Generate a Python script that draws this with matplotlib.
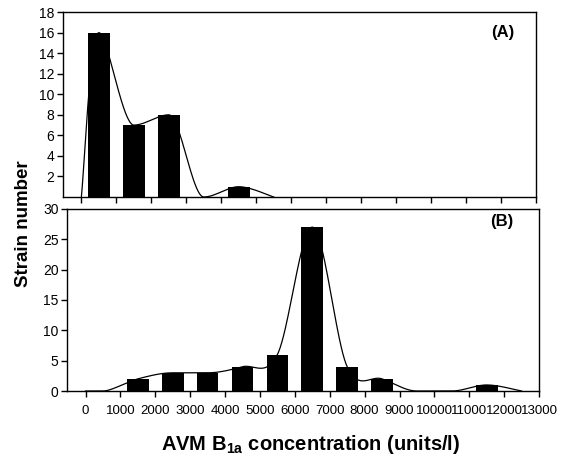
import numpy as np
import matplotlib
matplotlib.use("Agg")
import matplotlib.pyplot as plt
from matplotlib import font_manager

# Strain counts per 1000 units/l concentration bin
bin_centers = [500, 1500, 2500, 3500, 4500, 5500, 6500, 7500, 8500, 9500, 10500, 11500, 12500]
counts_a = [16, 7, 8, 0, 1, 0, 0, 0, 0, 0, 0, 0, 0]
counts_b = [0, 2, 3, 3, 4, 6, 27, 4, 2, 0, 0, 1, 0]
xtick_values = list(range(0, 13001, 1000))
xtick_labels = [str(v) for v in xtick_values]
yticks_a = [2, 4, 6, 8, 10, 12, 14, 16, 18]
yticks_b = [0, 5, 10, 15, 20, 25, 30]
curve_origin = (0, 0)

plt.rcParams['font.family'] = ['Liberation Sans', 'DejaVu Sans']
plt.rcParams['mathtext.fontset'] = 'custom'
plt.rcParams['mathtext.rm'] = 'Liberation Sans:bold'
plt.rcParams['mathtext.bf'] = 'Liberation Sans:bold'

try:
    font_manager.findfont('Liberation Sans Narrow', fallback_to_default=False)
    narrow = 'Liberation Sans Narrow'
except Exception:
    narrow = 'Liberation Sans'

fig = plt.figure(figsize=(5.66, 4.61), dpi=100)
ax_a = fig.add_axes([0.111, 0.5727, 0.836, 0.401])
ax_b = fig.add_axes([0.1184, 0.1518, 0.834, 0.395])


def smooth_curve(ax, xs, ys, n=40):
    """Bezier-smoothed line through the points (screen space); flat tangents at turning points."""
    pts = ax.transData.transform(np.column_stack([xs, ys]))
    m = len(pts)
    tang = np.zeros_like(pts)
    for i in range(m):
        a = pts[i - 1] if i > 0 else pts[i]
        b = pts[i + 1] if i < m - 1 else pts[i]
        tang[i] = (b - a) / 6.0
        if 0 < i < m - 1 and (ys[i] - ys[i - 1]) * (ys[i + 1] - ys[i]) <= 0:
            tang[i, 1] = 0.0
    out = []
    t = np.linspace(0, 1, n)[:, None]
    for i in range(m - 1):
        p1, p2 = pts[i], pts[i + 1]
        c1 = p1 + tang[i]
        c2 = p2 - tang[i + 1]
        seg = ((1 - t) ** 3) * p1 + 3 * ((1 - t) ** 2) * t * c1 + 3 * (1 - t) * t ** 2 * c2 + t ** 3 * p2
        out.append(seg if i == 0 else seg[1:])
    out = np.vstack(out)
    return ax.transData.inverted().transform(out)


def style(ax, ylim, yticks, show_xlabels):
    ax.set_xlim(-530, 13000)
    ax.set_ylim(*ylim)
    ax.set_yticks(yticks)
    ax.set_xticks(xtick_values)
    if show_xlabels:
        ax.set_xticklabels(xtick_labels, fontfamily=narrow, fontsize=9.5)
    else:
        ax.set_xticklabels([])
    ax.tick_params(axis='both', direction='out', length=4, width=1, color='black')
    ax.tick_params(axis='y', labelsize=10, pad=2)
    ax.tick_params(axis='x', pad=6)
    for s in ax.spines.values():
        s.set_linewidth(1.0)
        s.set_color('black')


panels = [
    (ax_a, counts_a, (0, 18), yticks_a, '(A)', (0.93, 0.892), False),
    (ax_b, counts_b, (0, 30), yticks_b, '(B)', (0.921, 0.929), True),
]

for ax, counts, ylim, yt, lab, pos, show in panels:
    style(ax, ylim, yt, show)
    ax.bar(bin_centers, counts, width=620, color='black', zorder=3)
    # line runs from the origin through each bin, ending at the first empty bin after the last filled one
    last = max(i for i, c in enumerate(counts) if c > 0)
    stop = min(last + 2, len(counts))
    cx = [curve_origin[0]] + bin_centers[:stop]
    cy = [curve_origin[1]] + counts[:stop]
    curve = smooth_curve(ax, cx, cy)
    ax.plot(curve[:, 0], curve[:, 1], color='black', lw=0.9, zorder=2)
    ax.text(pos[0], pos[1], lab, transform=ax.transAxes, ha='center', va='center',
            fontsize=12, fontweight='bold')

fig.text(0.0415, 0.515, 'Strain number', rotation=90, ha='center', va='center',
         fontsize=13.5, fontweight='bold')
fig.text(0.548, 0.024, r'AVM B$_{\mathrm{1a}}$ concentration (units/l)', ha='center', va='baseline',
         fontsize=14.5, fontweight='bold')

fig.savefig('out.png', dpi=100)
